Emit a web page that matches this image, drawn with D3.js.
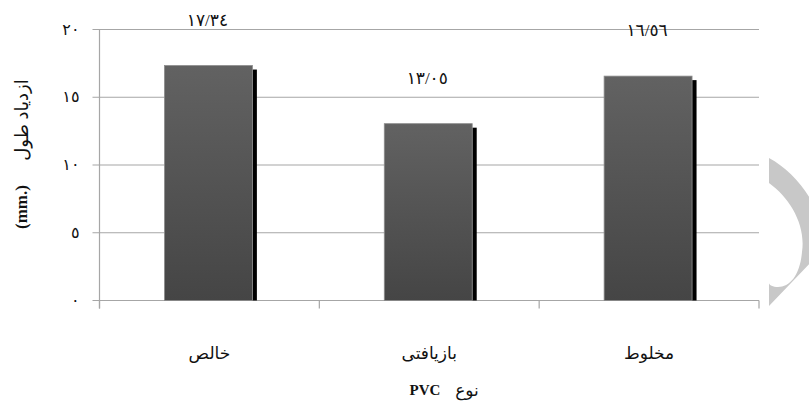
<!DOCTYPE html>
<html>
<head>
<meta charset="utf-8">
<script src="https://cdnjs.cloudflare.com/ajax/libs/d3/7.8.5/d3.min.js"></script>
<style>
  body { margin: 0; background: #fff; }
  text { font-family: "Liberation Serif", "DejaVu Sans", serif; fill: #111; }
</style>
</head>
<body>
<div id="root"></div>
<script>
// داده‌ها
var categories = ["خالص", "بازیافتی", "مخلوط"];
var values = [17.34, 13.05, 16.56];
var valueLabels = ["١٧/٣٤", "١٣/٠٥", "١٦/٥٦"];
var yTicks = [0, 5, 10, 15, 20];
var yTickLabels = ["٠", "٥", "١٠", "١٥", "٢٠"];

var width = 809,
    height = 403,
    margin = { top: 29.5, right: 50, bottom: 102.5, left: 99.5 };

var svg = d3.select("#root")
    .append("svg")
    .attr("width", width)
    .attr("height", height);

var x = d3.scaleBand()
    .domain(categories)
    .range([margin.left, width - margin.right])
    .paddingInner(0)
    .paddingOuter(0);

var y = d3.scaleLinear()
    .domain([0, 20])
    .range([height - margin.bottom, margin.top]);

var grad = svg.append("defs").append("linearGradient")
    .attr("id", "barGrad")
    .attr("x1", 0).attr("y1", 0).attr("x2", 0).attr("y2", 1);
grad.append("stop").attr("offset", "0%").attr("stop-color", "#626262");
grad.append("stop").attr("offset", "100%").attr("stop-color", "#454545");

// خطوط شبکه
svg.selectAll("line.grid")
    .data(yTicks)
    .enter()
    .append("line")
    .attr("class", "grid")
    .attr("x1", margin.left - 7)
    .attr("x2", x.range()[1])
    .attr("y1", function (d) { return y(d); })
    .attr("y2", function (d) { return y(d); })
    .style("stroke", "#a6a6a6")
    .style("stroke-width", 1.2);

// محور عمودی
svg.append("line")
    .attr("x1", margin.left).attr("x2", margin.left)
    .attr("y1", y(20)).attr("y2", y(0) + 8)
    .style("stroke", "#a6a6a6")
    .style("stroke-width", 1.2);

// تیک‌های افقی
svg.selectAll("line.xtick")
    .data(categories.concat(["end"]))
    .enter()
    .append("line")
    .attr("class", "xtick")
    .attr("x1", function (d, i) { return i < categories.length ? x(d) : x.range()[1]; })
    .attr("x2", function (d, i) { return i < categories.length ? x(d) : x.range()[1]; })
    .attr("y1", y(0))
    .attr("y2", y(0) + 8)
    .style("stroke", "#a6a6a6")
    .style("stroke-width", 1.2);

svg.selectAll("text.ytick")
    .data(yTicks)
    .enter()
    .append("text")
    .attr("class", "ytick")
    .attr("x", margin.left - 20)
    .attr("y", function (d) { return y(d) + 5; })
    .attr("text-anchor", "end")
    .style("font-size", "16px")
    .text(function (d, i) { return yTickLabels[i]; });

var barW = x.bandwidth() * 0.4;
var barX = function (d) { return x(d) + x.bandwidth() / 2 - barW / 2 - 1; };

// سایه ستون‌ها
svg.selectAll("rect.shadow")
    .data(categories)
    .enter()
    .append("rect")
    .attr("class", "shadow")
    .attr("x", function (d) { return barX(d) + barW; })
    .attr("y", function (d, i) { return y(values[i]) + 4; })
    .attr("width", 4.5)
    .attr("height", function (d, i) { return y(0) - y(values[i]) - 4; })
    .style("fill", "#000");

svg.selectAll("rect.bar")
    .data(categories)
    .enter()
    .append("rect")
    .attr("class", "bar")
    .attr("x", barX)
    .attr("y", function (d, i) { return y(values[i]); })
    .attr("width", barW)
    .attr("height", function (d, i) { return y(0) - y(values[i]); })
    .style("fill", "url(#barGrad)")
    .style("stroke", "#8c8c8c")
    .style("stroke-width", 0.8);

// برچسب مقدار
svg.selectAll("text.val")
    .data(categories)
    .enter()
    .append("text")
    .attr("class", "val")
    .attr("x", function (d) { return x(d) + x.bandwidth() / 2 - 2; })
    .attr("y", function (d, i) { return y(values[i]) - 40; })
    .attr("text-anchor", "middle")
    .style("font-size", "17px")
    .text(function (d, i) { return valueLabels[i]; });

svg.selectAll("text.cat")
    .data(categories)
    .enter()
    .append("text")
    .attr("class", "cat")
    .attr("x", function (d) { return x(d) + x.bandwidth() / 2; })
    .attr("y", y(0) + 58)
    .attr("text-anchor", "middle")
    .style("font-size", "17px")
    .text(function (d) { return d; });

// عنوان محور افقی
svg.append("text")
    .attr("x", 425).attr("y", 395)
    .attr("text-anchor", "middle")
    .style("font-size", "15px")
    .style("font-weight", "bold")
    .text("PVC");
svg.append("text")
    .attr("x", 467).attr("y", 396)
    .attr("text-anchor", "middle")
    .style("font-size", "17px")
    .text("نوع");

// عنوان محور عمودی
svg.append("text")
    .attr("transform", "translate(28,120) rotate(-90)")
    .attr("text-anchor", "middle")
    .style("font-size", "18px")
    .text("ازدیاد طول");
svg.append("text")
    .attr("transform", "translate(27,207) rotate(-90)")
    .attr("text-anchor", "middle")
    .style("font-size", "17px")
    .style("font-weight", "bold")
    .text("(mm.)");

// شکل خاکستری کنار صفحه
svg.append("path")
    .attr("d", "M769,158 C800,175 830,215 818,255 L769,306 Z M769,183 C790,198 806,225 802,252 C800,275 790,287 778,287 C773,287 769,285 769,283 Z")
    .style("fill", "#c8c8c8")
    .style("fill-rule", "evenodd");
</script>
</body>
</html>
